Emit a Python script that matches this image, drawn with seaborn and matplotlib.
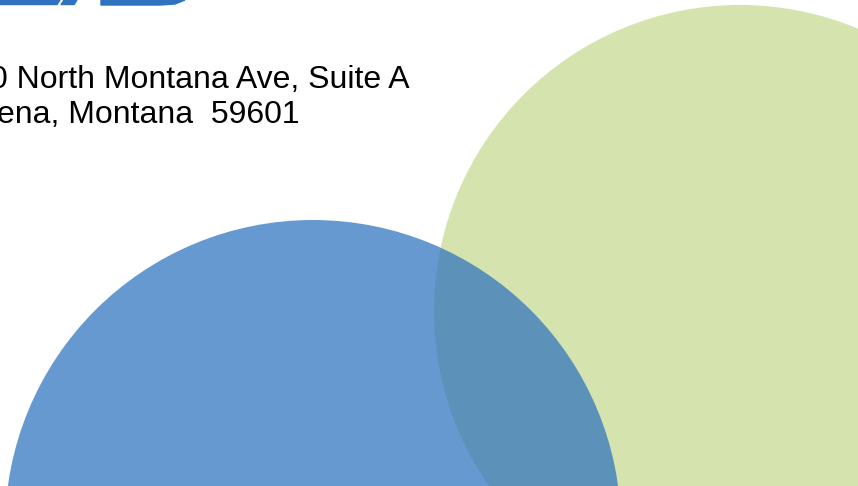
import matplotlib
matplotlib.use('Agg')
import matplotlib.pyplot as plt
from matplotlib.patches import Circle, Polygon
import seaborn as sns

# circles (pixel coords, y down)
names = ['green', 'blue']
centers_x = [740, 313]
centers_y = [311, 528]
radii = [306, 308]
colors = ['#d5e3ae', '#3377bf']
alphas = [1.0, 0.75]

address_lines = ['0 North Montana Ave, Suite A', 'ena, Montana  59601']
line_right = [410, 300]
line_base = [87.5, 122.5]

sns.set_theme(style='white')
plt.rcParams['font.family'] = ['Liberation Sans', 'DejaVu Sans']

fig = plt.figure(figsize=(8.58, 4.86), dpi=100)
ax = fig.add_axes([0, 0, 1, 1])
ax.set_xlim(0, 858)
ax.set_ylim(486, 0)
ax.axis('off')

for x, y, r, c, a in zip(centers_x, centers_y, radii, colors, alphas):
    ax.add_patch(Circle((x, y), r, facecolor=c, edgecolor='none', alpha=a))

# bottom of the logo, cut off by the top edge
logo = '#2f72bf'
ax.add_patch(Polygon([(0, 0), (60, 0), (57, 4.5), (0, 4.5)], color=logo))
ax.add_patch(Polygon([(64, 0), (77, 0), (74, 4.5), (61, 4.5)], color=logo))
ax.add_patch(Polygon([(101, 0), (185, 0), (175, 4), (160, 5), (101, 5)], color=logo))

for txt, xr, yb in zip(address_lines, line_right, line_base):
    ax.text(xr, yb, txt, ha='right', va='baseline', fontsize=23, color='black')

fig.savefig('out.png', dpi=100)
